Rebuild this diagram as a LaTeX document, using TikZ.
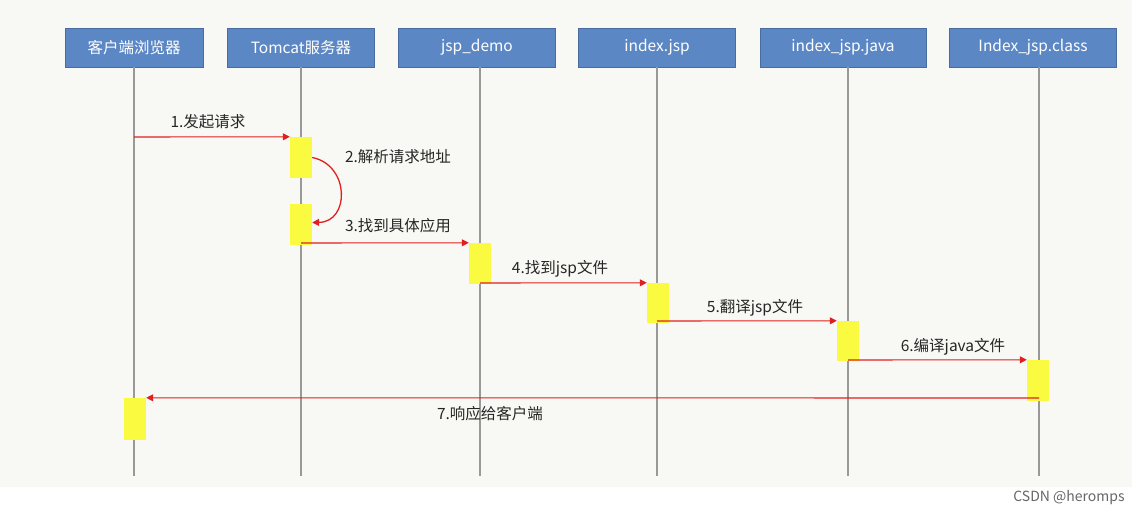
\documentclass[tikz,border=0pt]{standalone}
\usepackage{fontspec}
\setmainfont{Noto Sans CJK SC}
\usetikzlibrary{arrows.meta}
\definecolor{hdr}{HTML}{5B87C5}
\definecolor{bg}{HTML}{F8F9F5}
\definecolor{arr}{HTML}{E02020}
\definecolor{act}{HTML}{FAFA40}
\begin{document}
\begin{tikzpicture}[x=1pt,y=-1pt,
  hbox/.style={fill=hdr,draw=hdr!80!black,line width=0.4pt,text=white,font=\fontsize{15.5}{17}\selectfont,minimum height=39pt,inner sep=0pt},
  life/.style={draw=gray!80,line width=1.2pt},
  actbox/.style={fill=act,draw=none,minimum width=22pt,inner sep=0pt},
  msg/.style={draw=arr,line width=1.1pt,-{Triangle[length=7pt,width=7pt]}},
  lab/.style={font=\fontsize{15.5}{17}\selectfont,text=black!85,inner sep=0pt}]
\useasboundingbox (0,0) rectangle (1132,518);
\fill[white] (0,0) rectangle (1132,518);
\fill[bg] (0,0) rectangle (1132,487);
% headers
\node[hbox,minimum width=138pt] (h1) at (134,47.5) {客户端浏览器};
\node[hbox,minimum width=147pt] (h2) at (301,47.5) {Tomcat服务器};
\node[hbox,minimum width=157pt] (h3) at (477,47.5) {jsp\_demo};
\node[hbox,minimum width=157pt] (h4) at (657,47.5) {index.jsp};
\node[hbox,minimum width=166pt] (h5) at (843,47.5) {index\_jsp.java};
\node[hbox,minimum width=167pt] (h6) at (1033,47.5) {Index\_jsp.class};
\coordinate (e1) at (134,476);
\coordinate (e2) at (301,476);
\coordinate (e3) at (480,476);
\coordinate (e4) at (657,476);
\coordinate (e5) at (848,476);
\coordinate (e6) at (1039,476);
\draw[life] (134,67) -- (e1);
\draw[life] (301,67) -- (e2);
\draw[life] (480,67) -- (e3);
\draw[life] (657,67) -- (e4);
\draw[life] (848,67) -- (e5);
\draw[life] (1039,67) -- (e6);
% activations
\node[actbox,minimum height=41pt] (a2a) at (301,157.5) {};
\node[actbox,minimum height=41pt] (a2b) at (301,224.5) {};
\node[actbox,minimum height=41pt] (a3) at (480,263.5) {};
\node[actbox,minimum height=40pt] (a4) at (658,303) {};
\node[actbox,minimum height=40pt] (a5) at (848,341) {};
\node[actbox,minimum height=41pt] (a6) at (1038,380.5) {};
\node[actbox,minimum height=42pt] (a1) at (135,419) {};
% messages
\coordinate (s1) at (134,137);
\draw[msg] (s1) -- (a2a.north west);
\draw[draw=arr,line width=1.3pt,-{Triangle[length=7pt,width=7pt]}] (a2a.east) .. controls (350,165) and (350,222) .. ([yshift=2pt]a2b.east);
\coordinate (s3) at (301,243);
\draw[msg] (s3) -- (a3.north west);
\coordinate (s4) at (480,283);
\draw[msg] (s4) -- (a4.north west);
\coordinate (s5) at (657,321);
\draw[msg] (s5) -- (a5.north west);
\coordinate (s6) at (848,360);
\draw[msg] (s6) -- (a6.north west);
\coordinate (s7) at (1039,398);
\draw[msg] (s7) -- (a1.north east);
% labels
\node[lab] (l1) at (208,122) {1.发起请求};
\node[lab] (l2) at (398,157) {2.解析请求地址};
\node[lab] (l3) at (398,226) {3.找到具体应用};
\node[lab] (l4) at (560,269) {4.找到jsp文件};
\node[lab] (l5) at (755,308) {5.翻译jsp文件};
\node[lab] (l6) at (953,347) {6.编译java文件};
\node[lab] (l7) at (490,414) {7.响应给客户端};
\node[font=\fontsize{14}{16}\selectfont,text=black!60,inner sep=0pt] (wm) at (1069,498) {CSDN @heromps};
\end{tikzpicture}
\end{document}
